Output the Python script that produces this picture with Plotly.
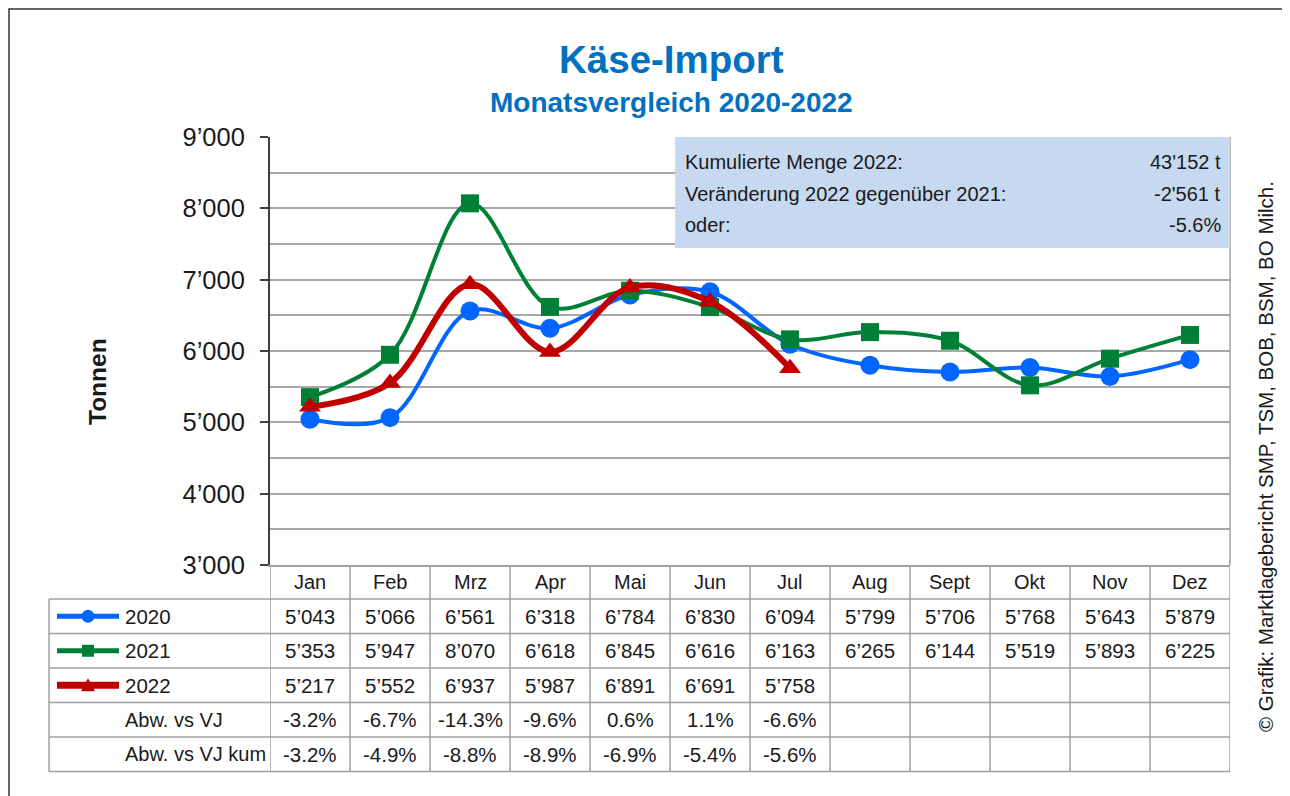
import plotly.graph_objects as go

# Käse-Import, Tonnen pro Monat
months = ["Jan", "Feb", "Mrz", "Apr", "Mai", "Jun", "Jul", "Aug", "Sept", "Okt", "Nov", "Dez"]
imp_2020 = [5043, 5066, 6561, 6318, 6784, 6830, 6094, 5799, 5706, 5768, 5643, 5879]
imp_2021 = [5353, 5947, 8070, 6618, 6845, 6616, 6163, 6265, 6144, 5519, 5893, 6225]
imp_2022 = [5217, 5552, 6937, 5987, 6891, 6691, 5758]
abw_vj = [-3.2, -6.7, -14.3, -9.6, 0.6, 1.1, -6.6]
abw_vj_kum = [-3.2, -4.9, -8.8, -8.9, -6.9, -5.4, -5.6]

kum_menge_2022 = 43152
veraenderung_t = -2561
veraenderung_pct = -5.6

y_ticks = [3000, 4000, 5000, 6000, 7000, 8000, 9000]

FONT = "Arial, Liberation Sans, sans-serif"
TXT = "#1a1a1a"
GRID = "#a8a8a8"
TBL = "#a0a0a0"
BLUE = "#0066ff"
GREEN = "#008037"
RED = "#c00000"

# page has an 8px body margin; figure is sized so the page stays 1290x796
OFF = 8
W, H = 1290 - OFF, 796 - OFF
# plot area in page pixels: x 270..1230, y 137..565
L, R, T, B = 270, 1230, 137, 565


def px(x):
    return (x - L) / (R - L)


def py(y):
    return (B - y) / (B - T)


def fmt(v):
    return f"{v:,}".replace(",", "’")


def txt(x, y, text, size, xanchor="center", **kw):
    return dict(xref="paper", yref="paper", x=px(x), y=py(y), text=text, showarrow=False,
                xanchor=xanchor, yanchor="middle", font=dict(size=size, color=kw.pop("color", TXT)), **kw)


series = [
    ("2020", imp_2020, BLUE, "circle", 19, 4),
    ("2021", imp_2021, GREEN, "square", 18, 4),
    ("2022", imp_2022, RED, "triangle-up", 19, 6),
]

fig = go.Figure()
for name, vals, color, symbol, msize, lw in series:
    fig.add_trace(go.Scatter(
        x=months[:len(vals)], y=vals, name=name, mode="lines+markers",
        line=dict(color=color, width=lw, shape="spline", smoothing=1),
        marker=dict(symbol=symbol, size=msize, color=color),
        showlegend=False, cliponaxis=False,
    ))

shapes = []
ann = []

# outer frame
shapes.append(dict(type="rect", xref="paper", yref="paper", x0=px(9), x1=px(1286), y0=py(805), y1=py(9),
                   line=dict(color="#333333", width=1.5), layer="below"))
# right border of plot area
shapes.append(dict(type="line", xref="paper", yref="paper", x0=1, x1=1, y0=0, y1=1,
                   line=dict(color=TBL, width=1.5)))

# info box
shapes.append(dict(type="rect", xref="paper", yref="paper", x0=px(675), x1=px(1230), y0=py(248), y1=py(137),
                   fillcolor="#c6d9f0", line=dict(width=0), layer="above"))
box_rows = [
    ("Kumulierte Menge 2022:", fmt(kum_menge_2022).replace("’", "'") + " t"),
    ("Veränderung 2022 gegenüber 2021:", fmt(veraenderung_t).replace("’", "'") + " t"),
    ("oder:", f"{veraenderung_pct:.1f}%"),
]
for i, (lab, val) in enumerate(box_rows):
    yy = 162 + i * 31.5
    ann.append(txt(683, yy, lab, 20, xanchor="left"))
    ann.append(txt(1223, yy, val, 20, xanchor="right"))

# data table below the chart
row_edges = [565, 599, 633.5, 668, 702.5, 737, 771.5]
for ye in row_edges[1:]:
    shapes.append(dict(type="line", xref="paper", yref="paper", x0=px(49), x1=1, y0=py(ye), y1=py(ye),
                       line=dict(color=TBL, width=1.5)))
shapes.append(dict(type="line", xref="paper", yref="paper", x0=px(49), x1=px(49), y0=py(599), y1=py(771.5),
                   line=dict(color=TBL, width=1.5)))
for i in range(len(months) + 1):
    shapes.append(dict(type="line", xref="x", yref="paper", x0=i - 0.5, x1=i - 0.5, y0=py(565), y1=py(771.5),
                       line=dict(color=TBL, width=1.5)))

row_mid = [(row_edges[i] + row_edges[i + 1]) / 2 for i in range(len(row_edges) - 1)]
for m in months:
    ann.append(dict(xref="x", yref="paper", x=m, y=py(row_mid[0]), text=m, showarrow=False,
                    xanchor="center", yanchor="middle", font=dict(size=20, color=TXT)))

table_rows = [
    [fmt(v) for v in imp_2020],
    [fmt(v) for v in imp_2021],
    [fmt(v) for v in imp_2022],
    [f"{v:.1f}%" for v in abw_vj],
    [f"{v:.1f}%" for v in abw_vj_kum],
]
for r, cells in enumerate(table_rows):
    for m, cell in zip(months, cells):
        ann.append(dict(xref="x", yref="paper", x=m, y=py(row_mid[r + 1]), text=cell, showarrow=False,
                        xanchor="center", yanchor="middle", font=dict(size=20.5, color=TXT)))

# legend keys inside table
for r, (name, vals, color, symbol, msize, lw) in enumerate(series):
    yc = row_mid[r + 1]
    shapes.append(dict(type="line", xref="paper", yref="paper", x0=px(57), x1=px(119), y0=py(yc), y1=py(yc),
                       line=dict(color=color, width=lw + 1)))
    cx = 88
    if symbol == "circle":
        shapes.append(dict(type="circle", xref="paper", yref="paper", x0=px(cx - 6.5), x1=px(cx + 6.5),
                           y0=py(yc + 6.5), y1=py(yc - 6.5), fillcolor=color, line=dict(width=0)))
    elif symbol == "square":
        shapes.append(dict(type="rect", xref="paper", yref="paper", x0=px(cx - 6), x1=px(cx + 6),
                           y0=py(yc + 6), y1=py(yc - 6), fillcolor=color, line=dict(width=0)))
    else:
        path = f"M {px(cx - 7)},{py(yc + 6)} L {px(cx + 7)},{py(yc + 6)} L {px(cx)},{py(yc - 7)} Z"
        shapes.append(dict(type="path", xref="paper", yref="paper", path=path, fillcolor=color,
                           line=dict(width=0)))
    ann.append(txt(123, yc, name, 20.5, xanchor="left"))
for r, lab in enumerate(["Abw. vs VJ", "Abw. vs VJ kum"]):
    ann.append(txt(123, row_mid[r + 4], lab, 20, xanchor="left"))

# titles and side texts
ann.append(txt(671, 59, "<b>Käse-Import</b>", 38.5, color="#0070c0"))
ann.append(txt(671, 102, "<b>Monatsvergleich 2020-2022</b>", 28, color="#0070c0"))
ann.append(txt(97, 382, "<b>Tonnen</b>", 24.5, textangle=-90))
ann.append(txt(1265, 457, "© Grafik: Marktlagebericht SMP, TSM, BOB, BSM, BO Milch.", 20.5, textangle=-90))

fig.update_layout(
    width=W, height=H,
    margin=dict(l=L - OFF, r=W - (R - OFF), t=T - OFF, b=H - (B - OFF), autoexpand=False),
    paper_bgcolor="white", plot_bgcolor="white",
    font=dict(family=FONT, color=TXT),
    xaxis=dict(type="category", categoryorder="array", categoryarray=months, range=[-0.5, 11.5],
               showticklabels=False, showgrid=False, zeroline=False,
               showline=True, linecolor=TBL, linewidth=1.5, ticks=""),
    yaxis=dict(range=[3000, 9000], tickvals=y_ticks, ticktext=[fmt(v) for v in y_ticks],
               tickfont=dict(size=25.5, color=TXT), ticks="outside", ticklen=8, tickcolor="#404040",
               tickwidth=1.5, ticklabelstandoff=10,
               showline=True, linecolor="#404040", linewidth=2,
               showgrid=True, gridcolor=GRID, gridwidth=1.5, zeroline=False,
               minor=dict(dtick=500, showgrid=True, gridcolor=GRID, gridwidth=1.5, ticks="")),
    shapes=shapes,
    annotations=ann,
)

fig.write_html("out.html")
